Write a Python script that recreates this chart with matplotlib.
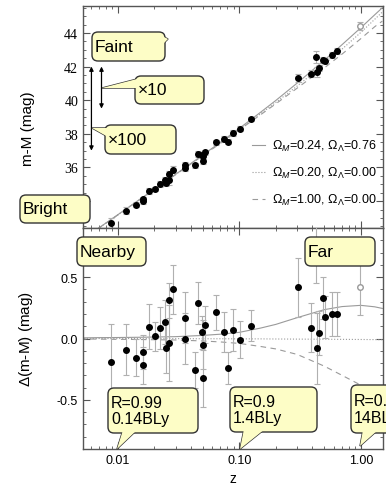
import numpy as np
import matplotlib

matplotlib.use("Agg")
import matplotlib.pyplot as plt
from matplotlib.patches import FancyBboxPatch, Polygon
from matplotlib.ticker import MultipleLocator, FixedLocator, FuncFormatter, LogLocator, NullFormatter
from matplotlib.transforms import Affine2D

plt.rcParams["font.family"] = ["Liberation Sans", "DejaVu Sans"]
plt.rcParams["mathtext.fontset"] = "custom"
plt.rcParams["mathtext.rm"] = "Liberation Sans"
plt.rcParams["mathtext.it"] = "Liberation Sans:italic"
plt.rcParams["axes.unicode_minus"] = False

# supernovae: redshift, residual vs empty universe, error, distance modulus
sn_z = [0.0088, 0.0118, 0.01415, 0.01615, 0.0162, 0.01823, 0.0203, 0.0223,
        0.0244, 0.0251, 0.0264, 0.0266, 0.0284, 0.0358, 0.036, 0.0455,
        0.0433, 0.0491, 0.052, 0.0507, 0.0507, 0.0649, 0.0755, 0.0809,
        0.0884, 0.1023, 0.126, 0.3055, 0.386, 0.4325, 0.45, 0.484, 0.5055,
        0.577, 0.631, 0.43]
sn_dmu = [-0.19, -0.09, -0.157, -0.109, -0.217, 0.097, 0.018, 0.086,
          0.135, -0.081, -0.036, 0.31, 0.40, 0.17, 0.0, 0.29,
          -0.255, 0.051, 0.113, -0.05, -0.325, 0.213, 0.054, -0.24,
          0.067, -0.011, 0.105, 0.416, 0.089, -0.079, 0.045, 0.332, 0.173,
          0.197, 0.197, 0.80]
sn_err = [0.31, 0.21, 0.15, 0.14, 0.15, 0.18, 0.12, 0.17,
          0.18, 0.20, 0.31, 0.14, 0.20, 0.21, 0.21, 0.17,
          0.145, 0.135, 0.15, 0.20, 0.23, 0.14, 0.165, 0.13,
          0.17, 0.15, 0.125, 0.24, 0.20, 0.29, 0.18, 0.17, 0.17,
          0.18, 0.18, 0.35]
sn_mu = [32.70, 33.44, 33.77, 34.11, 34.00, 34.58, 34.74, 35.01,
         35.26, 35.10, 35.26, 35.62, 35.86, 36.14, 35.98, 36.79,
         36.13, 36.72, 36.91, 36.69, 36.41, 37.50, 37.68, 37.54,
         38.05, 38.30, 38.90, 41.31, 41.57, 41.68, 41.91, 42.38, 42.34,
         42.71, 42.95, 42.55]

# the open (uncertain) point near z = 1
open_z, open_dmu, open_err, open_mu = [0.98], [0.42], [0.23], [44.40]

# model curves
curve_z = [0.005, 0.007, 0.01, 0.015, 0.02, 0.03, 0.05, 0.07, 0.1, 0.15,
           0.2, 0.3, 0.5, 0.7, 1.0, 1.3, 1.5]
mu_lcdm = [31.665, 32.397, 33.178, 34.07, 34.702, 35.595, 36.735, 37.495,
           38.32, 39.285, 39.985, 41.02, 42.375, 43.30, 44.31, 45.078, 45.495]
mu_open = [31.66, 32.39, 33.17, 34.06, 34.689, 35.579, 36.708, 37.458,
           38.267, 39.197, 39.866, 40.845, 42.134, 43.033, 44.032, 44.811, 45.24]
mu_eds = [31.656, 32.385, 33.163, 34.052, 34.68, 35.568, 36.69, 37.432,
          38.23, 39.135, 39.785, 40.72, 41.915, 42.74, 43.66, 44.37, 44.70]
d_lcdm = [0.005, 0.007, 0.008, 0.01, 0.012, 0.015, 0.025, 0.035, 0.05,
          0.085, 0.115, 0.17, 0.235, 0.26, 0.27, 0.258, 0.245]
d_open = [0.0, 0.0, 0.0, 0.0, -0.001, -0.001, -0.002, -0.002, -0.003,
          -0.003, -0.004, -0.005, -0.006, -0.007, -0.008, -0.009, -0.01]
d_eds = [-0.004, -0.005, -0.007, -0.008, -0.01, -0.012, -0.02, -0.028,
         -0.04, -0.065, -0.085, -0.13, -0.225, -0.3, -0.38, -0.45, -0.49]

labels = [r"$\Omega_M$=0.24, $\Omega_\Lambda$=0.76",
          r"$\Omega_M$=0.20, $\Omega_\Lambda$=0.00",
          r"$\Omega_M$=1.00, $\Omega_\Lambda$=0.00"]

W, H = 386, 485
fig = plt.figure(figsize=(W / 100, H / 100), dpi=100, facecolor="white")
ax1 = fig.add_axes([83 / W, 1 - 229 / H, 300 / W, 222 / H])
ax2 = fig.add_axes([83 / W, 1 - 450 / H, 300 / W, 221 / H], sharex=ax1)

lc = "#9a9a9a"
ebkw = dict(fmt="o", ms=4.0, color="k", ecolor="#b0b0b0", elinewidth=0.8,
            capsize=2, capthick=0.8, zorder=3)
openkw = dict(fmt="o", ms=4.0, mfc="white", mec="#999999", ecolor="#b0b0b0",
              elinewidth=0.8, capsize=2, capthick=0.8, zorder=3)

ax1.plot(curve_z, mu_lcdm, "-", color=lc, lw=0.8, label=labels[0])
ax1.plot(curve_z, mu_open, ":", color=lc, lw=0.8, label=labels[1])
ax1.plot(curve_z, mu_eds, "--", color=lc, lw=0.8, dashes=(5, 4), label=labels[2])
ax1.errorbar(sn_z, sn_mu, yerr=sn_err, **ebkw)
ax1.errorbar(open_z, open_mu, yerr=open_err, **openkw)

ax2.plot(curve_z, d_lcdm, "-", color=lc, lw=0.8)
ax2.plot(curve_z, d_open, ":", color=lc, lw=0.8)
ax2.plot(curve_z, d_eds, "--", color=lc, lw=0.8, dashes=(5, 4))
ax2.errorbar(sn_z, sn_dmu, yerr=sn_err, **ebkw)
ax2.errorbar(open_z, open_dmu, yerr=open_err, **openkw)

ax1.legend(loc="lower right", bbox_to_anchor=(1.0, 0.065), frameon=False,
           fontsize=9, handlelength=1.1, handletextpad=0.55, labelspacing=0.95,
           borderaxespad=0.1)

# brightness ratio arrows
akw = dict(arrowstyle="<|-|>", color="k", lw=0.9, mutation_scale=6,
           shrinkA=0, shrinkB=0)
ax1.annotate("", xy=(0.0061, 37.0), xytext=(0.0061, 42.0), arrowprops=akw)
ax1.annotate("", xy=(0.00738, 39.5), xytext=(0.00738, 42.0), arrowprops=akw)

ax1.set_xscale("log")
ax1.set_xlim(0.0052, 1.52)
ax1.set_ylim(32.4, 45.6)
ax2.set_ylim(-0.9, 0.9)

ax1.yaxis.set_major_locator(MultipleLocator(2))
ax1.yaxis.set_major_formatter(FuncFormatter(lambda v, p: f"{v:.0f}" if v > 35 else ""))
ax1.yaxis.set_minor_locator(MultipleLocator(0.5))
ax2.yaxis.set_major_locator(MultipleLocator(0.5))
ax2.yaxis.set_minor_locator(MultipleLocator(0.1))
ax2.yaxis.set_major_formatter(FuncFormatter(lambda v, p: f"{v:.1f}"))
ax2.xaxis.set_major_locator(FixedLocator([0.01, 0.1, 1.0]))
ax2.xaxis.set_minor_locator(LogLocator(base=10, subs=np.arange(2, 10)))
ax2.xaxis.set_major_formatter(FuncFormatter(lambda v, p: f"{v:.2f}"))
ax2.xaxis.set_minor_formatter(NullFormatter())

for ax in (ax1, ax2):
    for s in ax.spines.values():
        s.set_color("#555555")
        s.set_linewidth(1.0)
    ax.tick_params(which="both", direction="in", top=True, right=True,
                   color="#555555", labelsize=9)
    ax.tick_params(which="major", length=5, width=0.8)
    ax.tick_params(which="minor", length=2.5, width=0.6)
ax1.tick_params(labelbottom=False)
for t in ax1.get_yticklabels():
    t.set_family("Liberation Serif")
    t.set_fontsize(10)

ax1.set_ylabel("m-M (mag)", fontsize=11)
ax1.yaxis.set_label_coords(-0.16, 0.45)
ax2.set_ylabel(r"$\Delta$(m-M) (mag)", fontsize=11)
ax2.yaxis.set_label_coords(-0.16, 0.5)
ax2.set_xlabel("z", fontsize=10, labelpad=4)

# callout boxes in pixel coordinates (origin top-left)
T = Affine2D().scale(1, -1).translate(0, H)
fill = "#fdfdc6"
edge = "#333333"


def callout(x0, y0, x1, y1, text, tail=None, fs=12.5, ls=1.0):
    if tail is not None:
        fig.add_artist(Polygon(tail, closed=True, transform=T, fc=fill,
                               ec=edge, lw=1.0, zorder=5))
    fig.add_artist(FancyBboxPatch((x0, y0), x1 - x0, y1 - y0,
                                  boxstyle="round,pad=0,rounding_size=6",
                                  transform=T, fc=fill, ec=edge, lw=1.0,
                                  zorder=5))
    if tail is not None:
        fig.add_artist(Polygon(tail, closed=True, transform=T, fc=fill,
                               ec="none", zorder=6))
    fig.text(x0 + 3, (y0 + y1) / 2, text, transform=T, fontsize=fs,
             va="center", ha="left", linespacing=ls, zorder=7)


callout(92, 33, 165, 62, "Faint", [(162, 37), (168, 40), (162, 46)])
callout(135, 77, 204, 105, "\u00d710", [(137, 80), (102, 89), (137, 89)])
callout(105, 126, 176, 155, "\u00d7100", [(108, 129), (92, 129), (108, 138)])
callout(20, 196, 90, 224, "Bright")
callout(77, 238, 146, 267, "Nearby")
callout(305, 238, 375, 267, "Far")
callout(108, 389, 198, 434, "R=0.99\n0.14BLy", [(123, 431), (117, 450), (137, 431)],
        fs=11.5, ls=1.15)
callout(230, 388, 317, 433, "R=0.9\n1.4BLy", [(244, 430), (240, 450), (265, 430)],
        fs=11.5, ls=1.15)
callout(351, 386, 400, 434, "R=0.5\n14BLy", [(363, 431), (360, 447), (378, 431)],
        fs=11.5, ls=1.15)

fig.savefig("out.png", dpi=100)
